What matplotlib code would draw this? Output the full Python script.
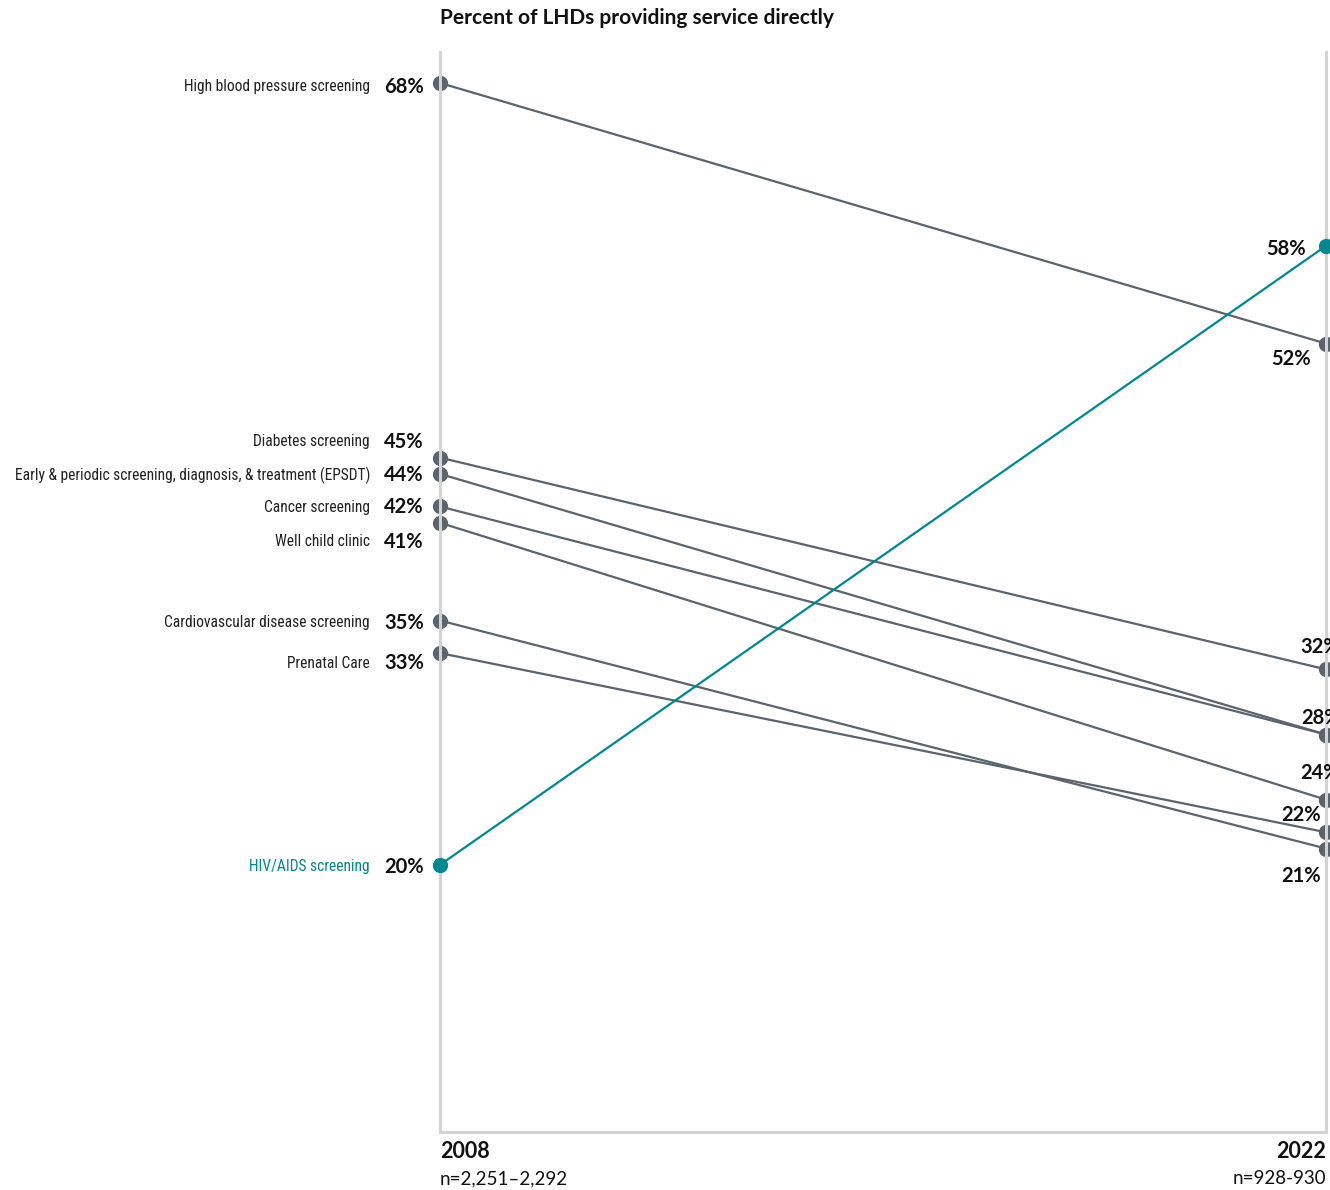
import matplotlib
matplotlib.use("Agg")
import matplotlib.pyplot as plt
from matplotlib import font_manager as fm

# Data
services = [
    "High blood pressure screening",
    "Diabetes screening",
    "Early & periodic screening, diagnosis, & treatment (EPSDT)",
    "Cancer screening",
    "Well child clinic",
    "Cardiovascular disease screening",
    "Prenatal Care",
    "HIV/AIDS screening",
]
pct_2008 = [68, 45, 44, 42, 41, 35, 33, 20]
pct_2022 = [52, 32, 28, 28, 24, 21, 22, 58]
years = ["2008", "2022"]
sample_sizes = ["n=2,251\u20132,292", "n=928-930"]
title = "Percent of LHDs providing service directly"
highlight = "HIV/AIDS screening"

# Label placement (pixel offsets from each point, positive = up)
left_dy = [-4, 16, -1, -1, -19, -2, -10, -2]
right_off = {
    "High blood pressure screening": (-15, -15, "right"),
    "Diabetes screening": (-26, 22, "left"),
    "Early & periodic screening, diagnosis, & treatment (EPSDT)": (-25, 17, "left"),
    "Cancer screening": (None, None, None),
    "Well child clinic": (-26, 27, "left"),
    "Cardiovascular disease screening": (-5, -27, "right"),
    "Prenatal Care": (-5, 17, "right"),
    "HIV/AIDS screening": (-20, -3, "right"),
}

available = {f.name for f in fm.fontManager.ttflist}
def pick(names):
    for n in names:
        if n in available:
            return n
    return "DejaVu Sans"

narrow = pick(["Liberation Sans Narrow", "Roboto Condensed", "DejaVu Sans"])
main = pick(["Lato", "Open Sans", "DejaVu Sans"])

GRAY = "#5b636d"
TEAL = "#00878f"
AXIS = "#d3d3d3"
INK = "#111111"

W, H = 1330, 1190
fig = plt.figure(figsize=(W / 100, H / 100), dpi=100)
x0, x1, ytop, ybot = 440, 1326, 52, 1132
ax = fig.add_axes([x0 / W, (H - ybot) / H, (x1 - x0) / W, (ybot - ytop) / H])
ax.set_xlim(0, 1)
ax.set_ylim(3.6, 69.9)
ax.set_xticks([])
ax.set_yticks([])
ax.spines["top"].set_visible(False)
for s in ("left", "right", "bottom"):
    ax.spines[s].set_color(AXIS)
    ax.spines[s].set_linewidth(2.2)
ax.patch.set_alpha(0)

for i, name in enumerate(services):
    is_hl = name == highlight
    c = TEAL if is_hl else GRAY
    ax.plot([0, 1], [pct_2008[i], pct_2022[i]], color=c, lw=1.6,
            marker="o", ms=10, clip_on=False, zorder=3 if is_hl else 2,
            solid_capstyle="butt")
    # left side: category name and value
    ax.annotate(f"{pct_2008[i]}%", (0, pct_2008[i]), xytext=(-16, left_dy[i]),
                textcoords="offset pixels", ha="right", va="center",
                fontsize=14.5, fontweight="bold", family=main, color=INK)
    ax.annotate(name, (0, pct_2008[i]), xytext=(-70, left_dy[i]),
                textcoords="offset pixels", ha="right", va="center",
                fontsize=11.2, family=narrow, color=TEAL if is_hl else "#222222")
    dx, dy, ha = right_off[name]
    if dx is not None:
        ax.annotate(f"{pct_2022[i]}%", (1, pct_2022[i]), xytext=(dx, dy),
                    textcoords="offset pixels", ha=ha, va="center",
                    fontsize=14.5, fontweight="bold", family=main, color=INK,
                    annotation_clip=False)

fig.text(x0 / W, 1 - 18 / H, title, ha="left", va="center",
         fontsize=15, fontweight="bold", family=main, color=INK)
fig.text(x0 / W, 1 - 1152 / H, years[0], ha="left", va="center",
         fontsize=15.5, fontweight="bold", family=main, color=INK)
fig.text(x0 / W, 1 - 1179 / H, sample_sizes[0], ha="left", va="center",
         fontsize=13.5, family=main, color=INK)
fig.text(x1 / W, 1 - 1152 / H, years[1], ha="right", va="center",
         fontsize=15.5, fontweight="bold", family=main, color=INK)
fig.text(x1 / W, 1 - 1179 / H, sample_sizes[1], ha="right", va="center",
         fontsize=13.5, family=main, color=INK)

fig.savefig("out.png", dpi=100)
